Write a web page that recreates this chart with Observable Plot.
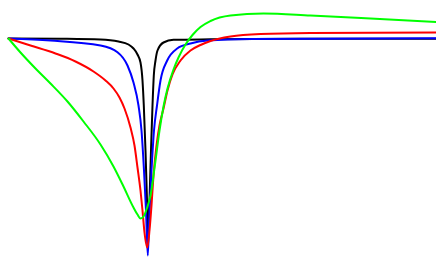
<!DOCTYPE html>
<html>
<head>
<meta charset="utf-8">
<script src="https://cdn.jsdelivr.net/npm/d3@7"></script>
<script src="https://cdn.jsdelivr.net/npm/@observablehq/plot@0.6"></script>
<style>
  html, body { margin: 0; padding: 0; background: #fff; }
  #chart svg { display: block; }
</style>
</head>
<body>
<div id="chart"></div>
<script>
// Series names (draw order) and their colours
const seriesNames = ["curve 1", "curve 2", "curve 3", "curve 4"];
const seriesColors = ["#000000", "#0000ff", "#ff0000", "#00ff00"];

// Separation r (arbitrary units) and potential V (arbitrary units) per series
const curve1R = [0, 5.2, 9.2, 11, 12, 12.5, 12.9, 13.2, 13.4, 13.53, 13.7, 13.85, 13.97, 14.1, 14.25, 14.4, 14.53, 14.7, 14.9, 15.5, 16.5, 20.2, 29.2, 42.8];
const curve1V = [0, -0.03, -0.1, -0.3, -0.6, -1, -1.6, -2.4, -4.2, -6.7, -11.2, -16.2, -20, -16.2, -11.2, -6.7, -3.7, -2.2, -1.2, -0.4, -0.13, -0.08, -0.03, -0.02];

const curve2R = [0, 4.2, 9.2, 10.9, 11.9, 12.5, 13, 13.3, 13.55, 13.75, 13.93, 14.1, 14.3, 14.55, 14.85, 15.2, 15.87, 16.87, 18.2, 19.9, 24.2, 42.8];
const curve2V = [0, -0.2, -0.7, -1.37, -2.7, -4.4, -6.7, -9.2, -13.2, -17.2, -21.7, -17.2, -13.2, -9.2, -6.7, -4.2, -2.2, -1.0, -0.5, -0.2, -0.05, 0.02];

const curve3R = [0, 2.2, 4.7, 6.7, 8.5, 9.7, 10.5, 11.1, 11.6, 12.2, 12.6, 12.9, 13.2, 13.4, 13.6, 13.87, 14.1, 14.3, 14.5, 14.8, 15.1, 15.5, 15.9, 16.4, 17.2, 18.2, 19.2, 20.2, 22.2, 25.2, 30.2, 42.8];
const curve3V = [0, -0.7, -1.5, -2.3, -3.3, -4.2, -5.0, -5.9, -7.0, -8.9, -10.7, -12.9, -15.2, -17.2, -19.4, -20.9, -19.2, -16.7, -13.7, -10.7, -8.7, -7.0, -5.2, -3.6, -2.2, -1.2, -0.65, -0.25, 0.2, 0.45, 0.55, 0.6];

const curve4R = [0, 1.2, 2.7, 4.2, 5.9, 7.5, 9.2, 10.5, 11.5, 12.5, 12.9, 13.2, 13.5, 13.9, 14.2, 14.7, 15.1, 15.5, 15.9, 16.5, 17, 17.7, 18.4, 19.2, 20.2, 22.2, 25.5, 30.2, 36.2, 42.8];
const curve4V = [0, -1.4, -3.0, -4.5, -6.3, -8.3, -10.6, -12.8, -14.8, -16.9, -17.6, -18, -17.8, -16.8, -15.7, -12.2, -9.2, -6.8, -5, -3.1, -1.9, -0.6, 0.35, 1.15, 1.75, 2.3, 2.5, 2.3, 2.0, 1.65];

const seriesR = [curve1R, curve2R, curve3R, curve4R];
const seriesV = [curve1V, curve2V, curve3V, curve4V];

const data = seriesNames.flatMap((name, i) =>
  seriesR[i].map((r, j) => ({ series: name, r, V: seriesV[i][j] }))
);

const chart = Plot.plot({
  width: 436,
  height: 270,
  margin: 0,
  x: { domain: [0, 42.8], range: [8, 436], axis: null },
  y: { domain: [-21.7, 0], range: [255, 38], axis: null },
  color: { domain: seriesNames, range: seriesColors },
  marks: [
    Plot.line(data, {
      x: "r",
      y: "V",
      z: "series",
      stroke: "series",
      strokeWidth: 2,
      curve: "monotone-x"
    })
  ]
});
document.getElementById("chart").appendChild(chart);
</script>
</body>
</html>
